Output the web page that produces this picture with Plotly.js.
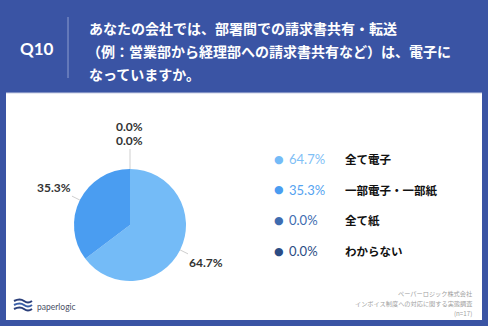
<!DOCTYPE html>
<html><head><meta charset="utf-8">
<script src="https://cdn.plot.ly/plotly-3.0.1.min.js"></script>
<style>html,body{margin:0;padding:0;background:#3a54a4;}#chart{width:488px;height:326px;}</style>
</head><body><div id="chart"></div>
<script>
const categories = ["全て電子", "一部電子・一部紙", "全て紙", "わからない"];
const values = [64.7, 35.3, 0.0, 0.0];
const colors = ["#74bbf7", "#4a9df1", "#3e6cb0", "#2b4c84"];
const pctColors = ["#7fc0f6", "#55a3f0", "#3e6cb0", "#2b4c84"];
const questionNo = "Q10";
const questionLines = ["あなたの会社では、部署間での請求書共有・転送", "（例：営業部から経理部への請求書共有など）は、電子に", "なっていますか。"];
const footerLines = ["ペーパーロジック株式会社", "インボイス制度への対応に関する実態調査", "(n=17)"];

const W = 488, H = 326;
const cx = 130, cy = 225, R = 56, Rlab = 85;
const px = x => x / W, py = y => 1 - y / H;
const blue = "#3a54a4";
const jp = "Noto Sans CJK JP";
const lat = "Lato, 'Noto Sans', sans-serif";

const annotations = [];
const shapes = [];

// white panel
shapes.push({type:"rect", xref:"paper", yref:"paper", x0:px(6), x1:px(482), y0:py(320), y1:py(93), fillcolor:"#ffffff", line:{width:0}, layer:"below"});
shapes.push({type:"line", xref:"paper", yref:"paper", x0:px(6), x1:px(482), y0:py(93), y1:py(93), line:{color:"#c9cfe4", width:1}});
// header divider
shapes.push({type:"line", xref:"paper", yref:"paper", x0:px(68), x1:px(68), y0:py(17), y1:py(78), line:{color:"#8d9dcf", width:1}});

// header texts
annotations.push({xref:"paper", yref:"paper", x:px(37), y:py(48), text:"<b>"+questionNo+"</b>", showarrow:false, xanchor:"center", yanchor:"middle", font:{family:lat, size:17, color:"#ffffff"}});
questionLines.forEach((t, i) => {
  annotations.push({xref:"paper", yref:"paper", x:px(i===1?85:87), y:py(28 + i*23), text:"<b>"+t+"</b>", showarrow:false, xanchor:"left", yanchor:"middle", font:{family:jp, size:14, color:"#ffffff"}});
});

// pie labels, positions derived from values
const total = values.reduce((a,b)=>a+b,0);
let cum = 0, prevAng = null, stack = 0;
values.forEach((v, i) => {
  const mid = (cum + v/2) / total * 2*Math.PI;
  cum += v;
  if (prevAng !== null && Math.abs(mid - prevAng) < 1e-6) stack++; else stack = 0;
  prevAng = mid;
  const dx = Math.sin(mid), dy = -Math.cos(mid);
  const ex = cx + R*dx, ey = cy + R*dy;
  const lx = cx + Rlab*dx, ly = cy + Rlab*dy - 13*stack;
  const txt = "<b>" + v.toFixed(1) + "%</b>";
  if (stack === 0) {
    annotations.push({xref:"paper", yref:"paper", x:px(ex), y:py(ey), ax:lx-ex, ay:ly-ey, text:txt, showarrow:true, arrowhead:0, arrowwidth:1, arrowcolor:"#cfcfcf", standoff:0, font:{family:lat, size:12, color:"#333333"}});
  } else {
    annotations.push({xref:"paper", yref:"paper", x:px(lx), y:py(ly), text:txt, showarrow:false, xanchor:"center", yanchor:"middle", font:{family:lat, size:12, color:"#333333"}});
  }
});

// legend
categories.forEach((c, i) => {
  const y = 159 + i*30.7;
  annotations.push({xref:"paper", yref:"paper", x:px(279), y:py(y), text:"●", showarrow:false, xanchor:"center", yanchor:"middle", font:{family:"DejaVu Sans", size:11, color:colors[i]}});
  annotations.push({xref:"paper", yref:"paper", x:px(287), y:py(y), text:values[i].toFixed(1)+"%", showarrow:false, xanchor:"left", yanchor:"middle", font:{family:lat, size:13, color:pctColors[i]}});
  annotations.push({xref:"paper", yref:"paper", x:px(343), y:py(y), text:"<b>"+c+"</b>", showarrow:false, xanchor:"left", yanchor:"middle", font:{family:jp, size:11.5, color:"#111111"}});
});

// footer
footerLines.forEach((t, i) => {
  annotations.push({xref:"paper", yref:"paper", x:px(474), y:py(293 + i*10), text:t, showarrow:false, xanchor:"right", yanchor:"middle", font:{family:jp, size:6.2, color:"#a0a0a0"}});
});
annotations.push({xref:"paper", yref:"paper", x:px(35), y:py(307), text:"paperlogic", showarrow:false, xanchor:"left", yanchor:"middle", font:{family:lat, size:8.5, color:"#4a4f66"}});
// logo icon
[[301,"#2b3f7a"],[305,"#3a5fa8"],[309,"#2b3f7a"]].forEach(([y,col]) => {
  shapes.push({type:"path", xref:"paper", yref:"paper", path:`M ${px(14)} ${py(y)} Q ${px(20)} ${py(y-3)} ${px(24)} ${py(y)} T ${px(32)} ${py(y)}`, line:{color:col, width:2}});
});

const data = [{
  type:"pie", labels:categories, values:values, sort:false, direction:"clockwise", rotation:0,
  marker:{colors:colors, line:{width:0}}, textinfo:"none", hoverinfo:"none", showlegend:false,
  domain:{x:[px(cx-R), px(cx+R)], y:[py(cy+R), py(cy-R)]}
}];
const layout = {
  width:W, height:H, margin:{l:0,r:0,t:0,b:0}, paper_bgcolor:blue, plot_bgcolor:blue,
  showlegend:false, annotations:annotations, shapes:shapes
};
Plotly.newPlot("chart", data, layout, {displayModeBar:false, staticPlot:true});
</script></body></html>
